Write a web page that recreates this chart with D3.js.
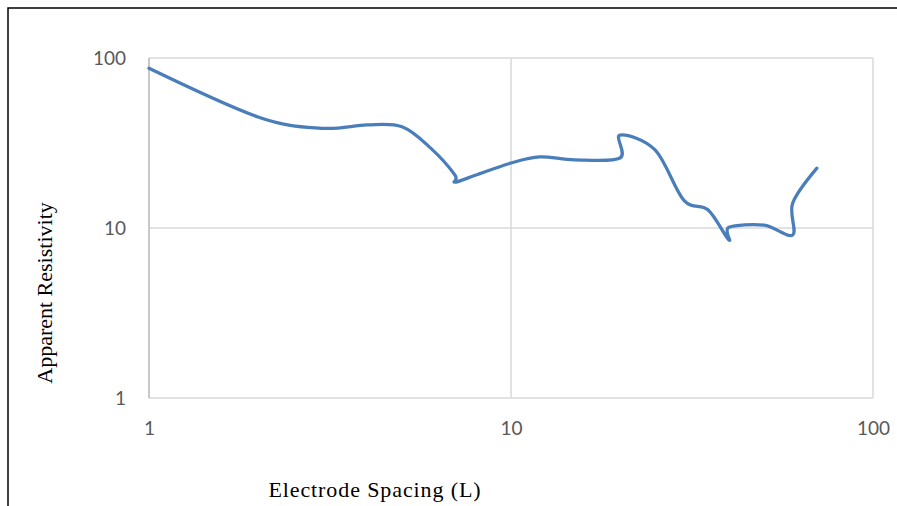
<!DOCTYPE html>
<html><head><meta charset="utf-8">
<script src="https://cdn.jsdelivr.net/npm/d3@7"></script>
<style>body{margin:0;background:#fff}svg{display:block}</style>
</head><body>
<svg id="c" width="897" height="506"></svg>
<script>
const spacing = [1, 2, 3, 4, 5, 6, 7, 7, 8, 10, 12, 15, 20, 20, 25, 30, 35, 40, 40, 50, 60, 60, 70];
const resistivity = [87, 45, 38.6, 40.4, 39.4, 29.5, 20.5, 18.6, 20.5, 24.1, 26.2, 25.2, 25.8, 35.2, 28.8, 14.6, 12.8, 8.5, 10.1, 10.4, 9.1, 14.0, 22.5];
const xTicks = [1, 10, 100];
const yTicks = [1, 10, 100];

const svg = d3.select("#c");
const L = 149, R = 873, T = 58, B = 398;
const x = d3.scaleLog().domain([1, 100]).range([L, R]);
const y = d3.scaleLog().domain([1, 100]).range([B, T]);

// outer frame
svg.append("rect").attr("x", 8).attr("y", 8).attr("width", 1000).attr("height", 1000)
  .attr("fill", "none").attr("stroke", "#000").attr("stroke-width", 1.5);

// grid
svg.append("g").selectAll("line").data(xTicks).join("line")
  .attr("x1", d => x(d)).attr("x2", d => x(d)).attr("y1", T).attr("y2", B)
  .attr("stroke", "#d9d9d9").attr("stroke-width", 1.5);
svg.append("g").selectAll("line").data(yTicks).join("line")
  .attr("y1", d => y(d)).attr("y2", d => y(d)).attr("x1", L).attr("x2", R)
  .attr("stroke", "#d9d9d9").attr("stroke-width", 1.5);
svg.append("line").attr("x1", L).attr("x2", L).attr("y1", T).attr("y2", B)
  .attr("stroke", "#bfbfbf").attr("stroke-width", 1.5);

// axes labels via d3 axes
const xa = svg.append("g").attr("transform", `translate(0,${B})`)
  .call(d3.axisBottom(x).tickValues(xTicks).tickFormat(d3.format("d")).tickSize(0).tickPadding(24));
const ya = svg.append("g").attr("transform", `translate(${L},0)`)
  .call(d3.axisLeft(y).tickValues(yTicks).tickFormat(d3.format("d")).tickSize(0).tickPadding(23));
[xa, ya].forEach(a => {
  a.select(".domain").remove();
  a.selectAll("text").attr("font-family", "Lato, 'Open Sans', sans-serif").attr("font-size", 19).attr("fill", "#595959");
});

// line
const line = d3.line().x((d, i) => x(spacing[i])).y(d => y(d)).curve(d3.curveCatmullRom.alpha(0));
svg.append("path").attr("d", line(resistivity)).attr("fill", "none")
  .attr("stroke", "#4a7ebb").attr("stroke-width", 3.25).attr("stroke-linecap", "round").attr("stroke-linejoin", "round");

// titles
svg.append("text").attr("x", 375).attr("y", 497).attr("text-anchor", "middle")
  .attr("font-family", "'Liberation Serif', 'Times New Roman', serif").attr("font-size", 22)
  .attr("letter-spacing", 0.9).text("Electrode Spacing (L)");
svg.append("text").attr("transform", "translate(52,293) rotate(-90)").attr("text-anchor", "middle")
  .attr("font-family", "'Liberation Serif', 'Times New Roman', serif").attr("font-size", 22).text("Apparent Resistivity");
</script>
</body></html>
